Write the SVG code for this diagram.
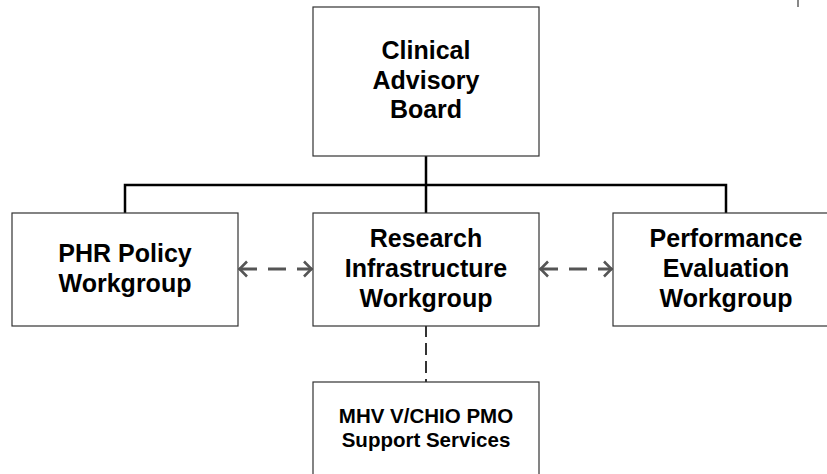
<svg xmlns="http://www.w3.org/2000/svg" width="827" height="474" viewBox="0 0 827 474">
<defs>
<style>
.box{fill:#fff;stroke:#333;stroke-width:1.2}
.t{font-family:"Liberation Sans",Arial,sans-serif;font-weight:bold;font-size:25px;fill:#000;text-anchor:middle}
.ts{font-family:"Liberation Sans",Arial,sans-serif;font-weight:bold;font-size:20.5px;fill:#000;text-anchor:middle}
.solid{fill:none;stroke:#000;stroke-width:2.5}
.dash{fill:none;stroke:#555;stroke-width:2.8;stroke-dasharray:18 11}
.vdash{fill:none;stroke:#333;stroke-width:2;stroke-dasharray:12 6}
</style>
<marker id="ah" viewBox="0 0 10 18" refX="9" refY="9" markerWidth="10" markerHeight="18" markerUnits="userSpaceOnUse" orient="auto-start-reverse">
<path d="M1,1.5 L8.5,9 L1,16.5" fill="none" stroke="#555" stroke-width="2.6"/>
</marker>
</defs>
<rect width="827" height="474" fill="#fff"/>
<line x1="798" y1="0" x2="798" y2="7" stroke="#888" stroke-width="2"/>
<g id="connectors">
<path class="solid" d="M426,156 V213 M125,213 V185 H726 V213"/>
<line class="dash" x1="239" y1="269" x2="312" y2="269" marker-start="url(#ah)" marker-end="url(#ah)"/>
<line class="dash" x1="540" y1="269" x2="612" y2="269" marker-start="url(#ah)" marker-end="url(#ah)"/>
<line class="vdash" x1="426" y1="325" x2="426" y2="382"/>
</g>
<g id="clinical-advisory-board">
<rect class="box" x="313" y="7" width="226" height="149"/>
<text class="t" x="426" y="59">Clinical</text>
<text class="t" x="426" y="89">Advisory</text>
<text class="t" x="426" y="118">Board</text>
</g>
<g id="phr-policy">
<rect class="box" x="12" y="213" width="226" height="113"/>
<text class="t" x="125" y="262">PHR Policy</text>
<text class="t" x="125" y="292">Workgroup</text>
</g>
<g id="research-infrastructure">
<rect class="box" x="313" y="213" width="226" height="113"/>
<text class="t" x="426" y="247">Research</text>
<text class="t" x="426" y="277">Infrastructure</text>
<text class="t" x="426" y="307">Workgroup</text>
</g>
<g id="performance-evaluation">
<rect class="box" x="613" y="213" width="226" height="113"/>
<text class="t" x="726" y="247">Performance</text>
<text class="t" x="726" y="277">Evaluation</text>
<text class="t" x="726" y="307">Workgroup</text>
</g>
<g id="mhv-support">
<rect class="box" x="313" y="382" width="226" height="113"/>
<text class="ts" x="426" y="423">MHV V/CHIO PMO</text>
<text class="ts" x="426" y="447">Support Services</text>
</g>
</svg>
